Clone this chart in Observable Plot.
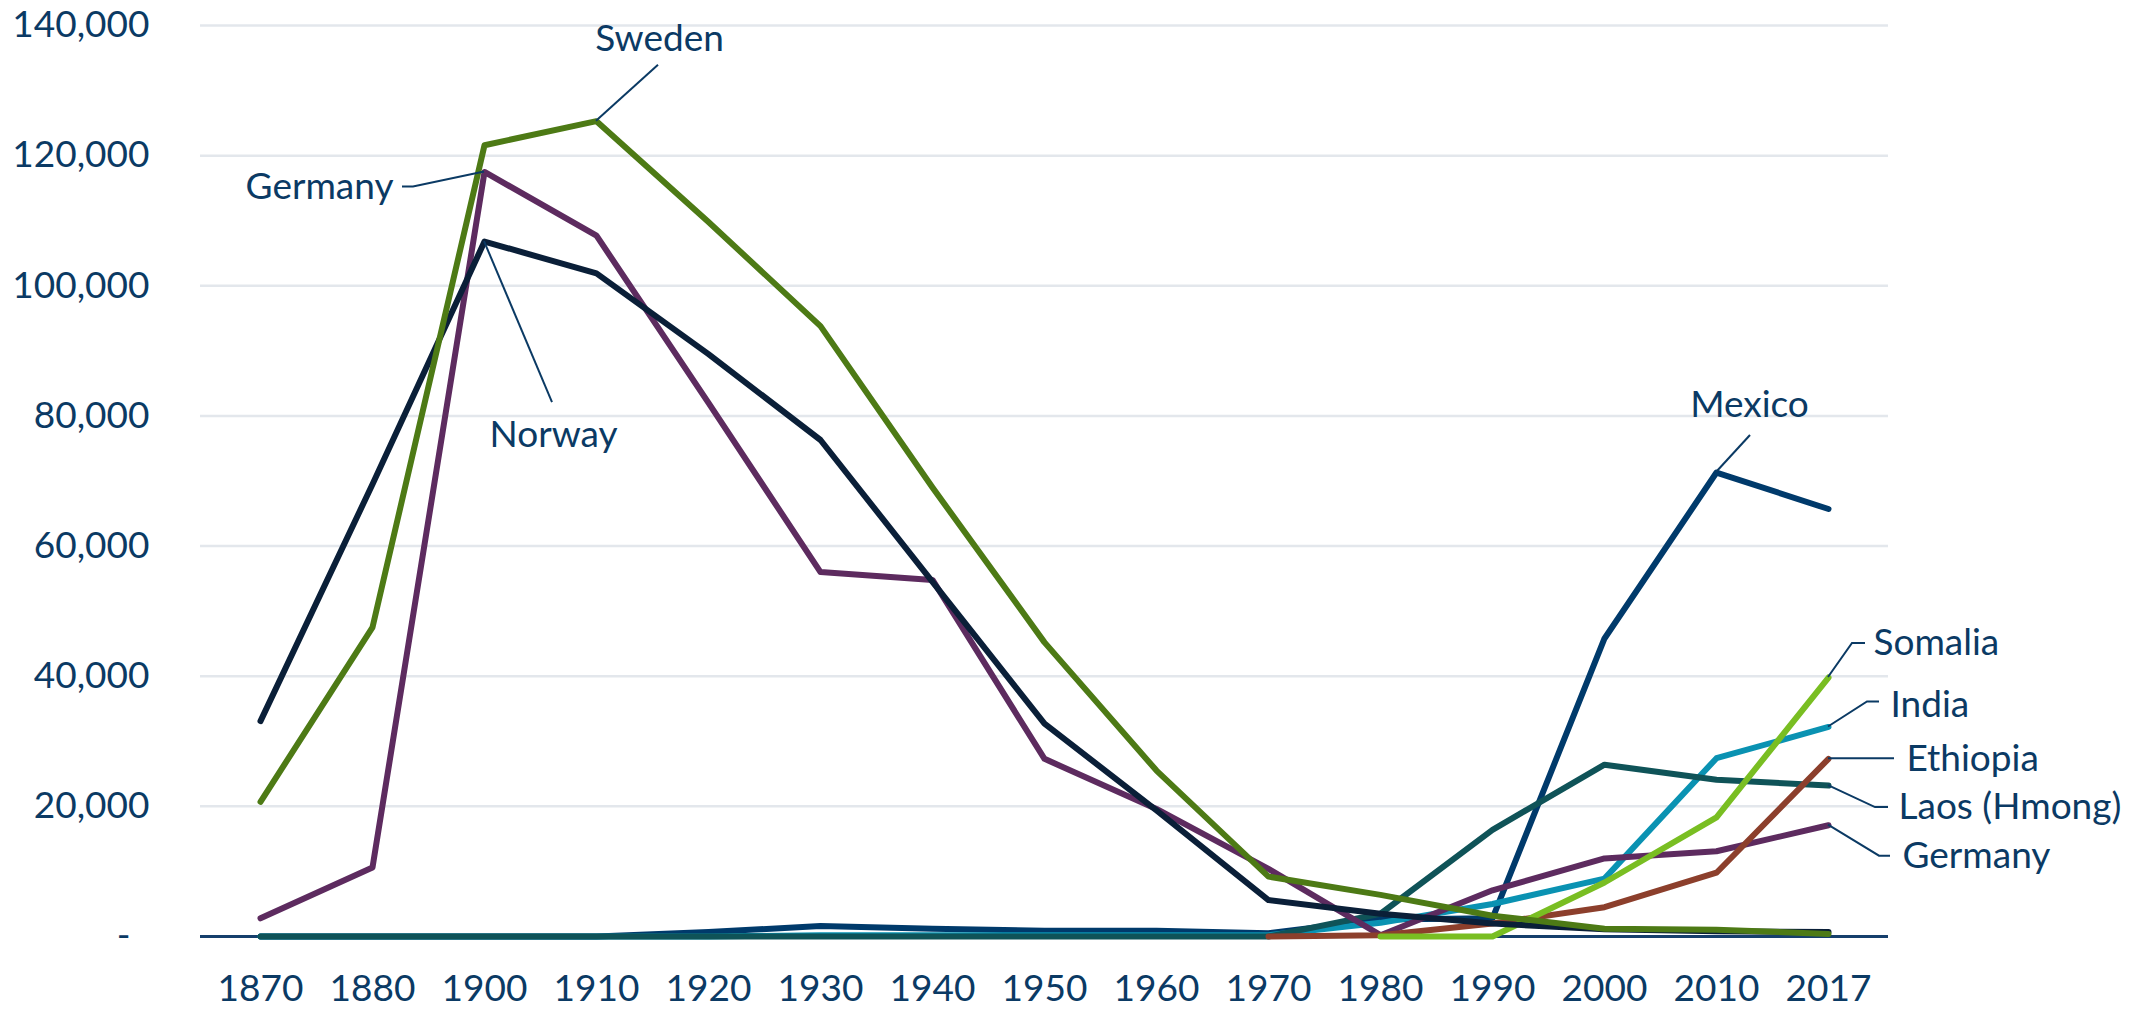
<!DOCTYPE html>
<html>
<head>
<meta charset="utf-8">
<script src="https://cdn.jsdelivr.net/npm/d3@7"></script>
<script src="https://cdn.jsdelivr.net/npm/@observablehq/plot@0.6"></script>
<style>
  html, body { margin: 0; padding: 0; background: #ffffff; }
  #chart { width: 2153px; height: 1010px; }
</style>
</head>
<body>
<div id="chart"></div>
<script>
// ---------- data ----------
const years = ["1870","1880","1900","1910","1920","1930","1940","1950","1960","1970","1980","1990","2000","2010","2017"];
const mexico   = [0, 0, 0, 0, 700, 1600, 1200, 900, 900, 500, 2600, 2800, 45800, 71300, 65700];
const india    = [0, 0, 0, 0, 0, 200, 200, 200, 200, 200, 2100, 5000, 8900, 27400, 32200];
const laos     = [0, 0, 0, 0, 0, 0, 0, 0, 0, 0, 3500, 16400, 26400, 24100, 23200];
const germany  = [2800, 10600, 117500, 107700, 82000, 56000, 54800, 27300, 19600, 10400, 200, 7100, 12000, 13100, 17100];
const ethiopia = [null, null, null, null, null, null, null, null, null, 0, 200, 2000, 4500, 9800, 27300];
const somalia  = [null, null, null, null, null, null, null, null, null, null, 0, 0, 8300, 18300, 39800];
const norway   = [33100, 69500, 106800, 101900, 89500, 76300, 54500, 32700, 19400, 5600, 3500, 2000, 1100, 800, 700];
const sweden   = [20700, 47500, 121600, 125300, 109800, 93800, 69000, 45200, 25500, 9200, 6400, 3200, 1200, 1050, 400];
const yTicks   = [0, 20000, 40000, 60000, 80000, 100000, 120000, 140000];

// ---------- styling ----------
const seriesNames  = ["Mexico", "India", "Laos (Hmong)", "Germany", "Ethiopia", "Somalia", "Norway", "Sweden"];
const seriesValues = [mexico, india, laos, germany, ethiopia, somalia, norway, sweden];
const seriesColors = ["#003a6b", "#0a92b2", "#0f5358", "#5d2b5f", "#8c3f2c", "#79be22", "#0a1f38", "#4d7a15"];
const textColor = "#0b3a64";

// long table built from the arrays
const table = [];
seriesNames.forEach((s, i) => {
  years.forEach((y, j) => {
    const v = seriesValues[i][j];
    if (v !== null) table.push({series: s, year: y, value: v});
  });
});
const valueOf = (s, y) => seriesValues[seriesNames.indexOf(s)][years.indexOf(y)];

// annotation placement (label offsets & leader elbows, in px relative to the data point)
const annotations = [
  {text: "Sweden",       series: "Sweden",       year: "1910", dx: 63,  dy: -82, anchor: "middle", leader: [[62, -56]]},
  {text: "Germany",      series: "Germany",      year: "1900", dx: -91, dy: 15,  anchor: "end",    leader: [[-71, 15], [-82, 15]]},
  {text: "Norway",       series: "Norway",       year: "1900", dx: 69,  dy: 194, anchor: "middle", leader: [[68, 161]]},
  {text: "Mexico",       series: "Mexico",       year: "2010", dx: 33,  dy: -67, anchor: "middle", leader: [[34, -37]]},
  {text: "Somalia",      series: "Somalia",      year: "2017", dx: 45,  dy: -34, anchor: "start",  leader: [[24, -34], [37, -34]]},
  {text: "India",        series: "India",        year: "2017", dx: 62,  dy: -22, anchor: "start",  leader: [[39, -25], [51, -25]]},
  {text: "Ethiopia",     series: "Ethiopia",     year: "2017", dx: 78,  dy: 0,   anchor: "start",  leader: [[66, 0]]},
  {text: "Laos (Hmong)", series: "Laos (Hmong)", year: "2017", dx: 70,  dy: 22,  anchor: "start",  leader: [[47, 22], [60, 22]]},
  {text: "Germany",      series: "Germany",      year: "2017", dx: 74,  dy: 31,  anchor: "start",  leader: [[51, 31], [62, 31]]}
];

const fmt = d3.format(",");

const marks = [
  Plot.ruleY(yTicks.filter(d => d > 0), {stroke: "#e3e7ec", strokeWidth: 2.5}),
  Plot.ruleY([0], {stroke: "#163f6c", strokeWidth: 3})
];
seriesNames.forEach((s, i) => {
  marks.push(Plot.line(table.filter(d => d.series === s), {
    x: "year", y: "value",
    stroke: seriesColors[i], strokeWidth: 6,
    strokeLinejoin: "round", strokeLinecap: "round"
  }));
});
annotations.forEach(a => {
  marks.push(Plot.text([a], {
    x: "year", y: d => valueOf(d.series, d.year), text: "text",
    dx: a.dx, dy: a.dy, textAnchor: a.anchor,
    fill: textColor, fontSize: 37, lineAnchor: "middle"
  }));
});

const plot = Plot.plot({
  width: 2153,
  height: 1010,
  marginTop: 25,
  marginBottom: 74,
  marginLeft: 200,
  marginRight: 265,
  style: {fontFamily: "Lato, 'Open Sans', sans-serif", fontSize: "37px", color: textColor, background: "#ffffff"},
  x: {type: "point", domain: years, padding: 0.5, tickSize: 0, tickPadding: 38, label: null},
  y: {domain: [0, 140000], ticks: yTicks, tickSize: 0, tickPadding: 51, label: null,
      tickFormat: d => d === 0 ? "-\u00a0\u00a0" : fmt(d)},
  marks
});

// leader lines, positioned through the plot's own scales
const xs = plot.scale("x"), ys = plot.scale("y");
const svg = d3.select(plot);
const g = svg.append("g").attr("fill", "none").attr("stroke", textColor).attr("stroke-width", 2);
annotations.forEach(a => {
  const px = xs.apply(a.year), py = ys.apply(valueOf(a.series, a.year));
  const pts = [[px, py], ...a.leader.map(([ox, oy]) => [px + ox, py + oy])];
  g.append("path").attr("d", d3.line()(pts));
});

document.getElementById("chart").appendChild(plot);
</script>
</body>
</html>
